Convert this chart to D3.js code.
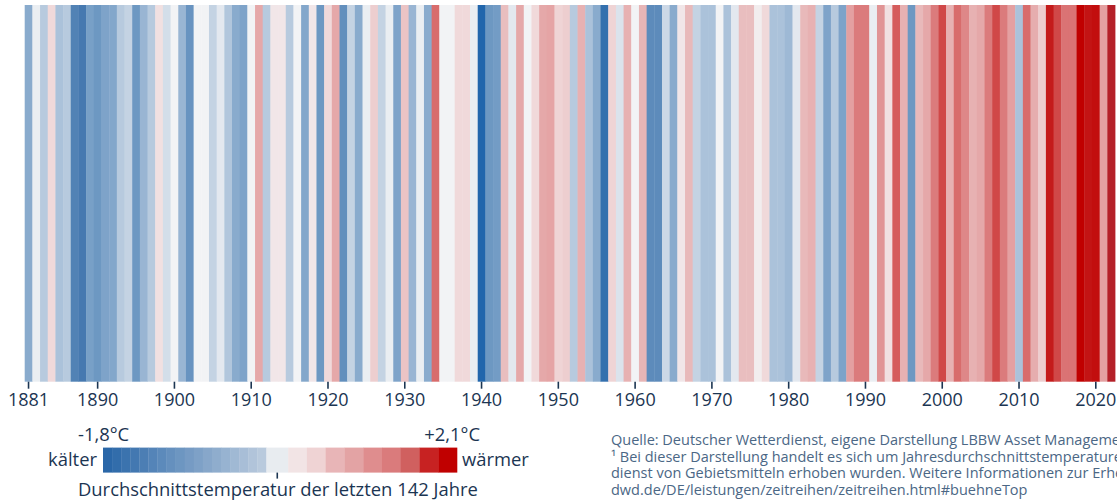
<!DOCTYPE html>
<html lang="de">
<head>
<meta charset="utf-8">
<script src="https://cdn.jsdelivr.net/npm/d3@7"></script>
<style>
  body { margin: 0; background: #fff; }
  svg { display: block; font-family: "Open Sans", "Noto Sans", sans-serif; }
</style>
</head>
<body>
<div id="chart"></div>
<script>
// Years shown (1881 - 2022, 142 stripes)
const years = d3.range(1881, 2023);

// Deviation of the annual mean temperature from the 142-year average, in °C
const anomalies = [
  // 1881-1890
  -0.8, -0.05, -0.4, 0.2, -0.5, -0.4, -1.3, -1.4, -0.95, -1.05,
  // 1891-1900
  -0.9, -0.85, -0.4, -0.3, -1.05, -0.65, -0.4, 0.15, -0.2, 0.0,
  // 1901-1910
  -0.65, -1.1, 0.0, 0.0, -0.3, -0.1, -0.45, -0.8, -0.9, 0.0,
  // 1911-1920
  0.7, -0.4, 0.1, 0.1, -0.4, 0.0, -0.85, 0.1, -1.05, 0.2,
  // 1921-1930
  0.7, -1.15, -0.3, -0.8, -0.05, 0.3, -0.3, -0.05, -0.9, 0.4,
  // 1931-1940
  -0.65, -0.05, -0.8, 1.2, 0.0, 0.0, 0.2, 0.2, -0.05, -1.8,
  // 1941-1950
  -1.05, -1.0, 0.45, -0.1, 0.7, 0.0, 0.2, 0.7, 0.75, 0.25,
  // 1951-1960
  0.3, -0.4, 0.6, -0.5, -0.8, -1.6, 0.25, -0.15, 0.6, 0.0,
  // 1961-1970
  0.55, -1.2, -1.2, -0.25, -0.8, 0.1, 0.5, -0.3, -0.5, -0.5,
  // 1971-1980
  0.0, -0.5, -0.1, 0.45, 0.45, 0.05, 0.2, -0.5, -0.5, -0.6,
  // 1981-1990
  -0.1, 0.5, 0.6, -0.3, -0.9, -0.4, -0.9, 0.8, 1.1, 1.1,
  // 1991-2000
  -0.05, 0.9, 0.15, 1.3, 0.6, -1.05, 0.5, 0.7, 1.1, 1.5,
  // 2001-2010
  0.6, 1.2, 1.0, 0.6, 0.7, 1.1, 1.5, 1.1, 0.8, -0.5,
  // 2011-2020
  1.2, 0.65, 0.3, 1.9, 1.5, 1.15, 1.15, 2.1, 1.95, 2.0,
  // 2021-2022
  0.8, 2.15
];

const tickYears = [1881, 1890, 1900, 1910, 1920, 1930, 1940, 1950, 1960, 1970,
                   1980, 1990, 2000, 2010, 2020];

// legend
const legendMin = -1.8, legendMax = 2.1;
const legendNeutral = [0, 0.24];   // light band around the long-term mean
const legendMeanTick = 0.12;
const blueSteps = 18, redSteps = 9;

const sourceLines = [
  "Quelle: Deutscher Wetterdienst, eigene Darstellung LBBW Asset Management",
  "\u00b9 Bei dieser Darstellung handelt es sich um Jahresdurchschnittstemperaturen, die vom Deutschen Wetter-",
  "dienst von Gebietsmitteln erhoben wurden. Weitere Informationen zur Erhebung unter:",
  "dwd.de/DE/leistungen/zeitreihen/zeitreihen.html#buehneTop"
];

const width = 1117, height = 501;
const textColor = '#1b3552';

const svg = d3.select('#chart').append('svg')
    .attr('width', width)
    .attr('height', height)
    .attr('viewBox', `0 0 ${width} ${height}`);

// stripe colours (blue = colder, red = warmer)
const color = d3.scaleLinear()
    .domain([-1.8, -1.4, -1.0, -0.6, -0.3, 0.0, 0.2, 0.5, 0.8, 1.1, 1.3, 1.5, 1.9, 2.1, 2.15])
    .range(['#2166ac', '#4679b0', '#739cc5', '#9eb9d5', '#c4d3e3', '#f2f3f5', '#f0d9da',
            '#e8b9ba', '#e4a0a1', '#db7b7c', '#d55c5c', '#d04848', '#c41b1b', '#c00000', '#b42028'])
    .clamp(true);

const x = d3.scaleBand()
    .domain(years)
    .range([24.7, 1115])
    .paddingInner(0);

const stripeTop = 5, stripeBottom = 381.7;

svg.append('g')
    .selectAll('rect')
    .data(years)
    .enter().append('rect')
    .attr('x', d => x(d))
    .attr('y', stripeTop)
    .attr('width', x.bandwidth() + 0.4)
    .attr('height', stripeBottom - stripeTop)
    .attr('fill', (d, i) => color(anomalies[i]));

// x axis
const axis = svg.append('g')
    .attr('transform', `translate(0,${stripeBottom})`)
    .call(d3.axisBottom(x).tickValues(tickYears).tickSize(7).tickPadding(5).tickSizeOuter(0));
axis.select('.domain').remove();
axis.selectAll('.tick line').attr('stroke', textColor).attr('stroke-width', 1.6);
axis.selectAll('.tick text')
    .attr('fill', textColor)
    .style('font-size', '18px')
    .style('font-family', '"Open Sans", sans-serif');

// legend colour bar
const lx = d3.scaleLinear().domain([legendMin, legendMax]).range([103, 457]);
const blueBreaks = d3.range(blueSteps + 1).map(i => legendMin + (legendNeutral[0] - legendMin) * i / blueSteps);
const redBreaks = d3.range(redSteps + 1).map(i => legendNeutral[1] + (legendMax - legendNeutral[1]) * i / redSteps);
const blueColor = d3.interpolateRgb('#2a67a8', '#b9cadd');
const redColors = ['#f2e4e5', '#efd3d4', '#e8b5b7', '#e3a3a4', '#df8d8e', '#da7b7c', '#d0605f', '#c72222', '#c00000'];

const segments = [];
for (let i = 0; i < blueSteps; i++) {
  segments.push({ a: blueBreaks[i], b: blueBreaks[i + 1], c: blueColor(i / (blueSteps - 1)) });
}
segments.push({ a: legendNeutral[0], b: legendNeutral[1], c: '#e8ecf0' });
for (let i = 0; i < redSteps; i++) {
  segments.push({ a: redBreaks[i], b: redBreaks[i + 1], c: redColors[i] });
}

const barTop = 447.6, barH = 25;
const legend = svg.append('g');
legend.selectAll('rect')
    .data(segments)
    .enter().append('rect')
    .attr('x', d => lx(d.a))
    .attr('y', barTop)
    .attr('width', d => lx(d.b) - lx(d.a) + 0.3)
    .attr('height', barH)
    .attr('fill', d => d.c);

legend.append('line')
    .attr('x1', lx(legendMeanTick)).attr('x2', lx(legendMeanTick))
    .attr('y1', barTop + barH).attr('y2', barTop + barH + 6)
    .attr('stroke', textColor).attr('stroke-width', 1.6);

const legendText = (txt, xPos, yPos, anchor) => legend.append('text')
    .attr('x', xPos).attr('y', yPos)
    .attr('text-anchor', anchor)
    .attr('fill', textColor)
    .style('font-size', '18.4px')
    .text(txt);

legendText('-1,8\u00b0C', 78, 441, 'start');
legendText('+2,1\u00b0C', 480, 441, 'end');
legendText('k\u00e4lter', 97, 466, 'end');
legendText('w\u00e4rmer', 462, 466, 'start');
legendText('Durchschnittstemperatur der letzten 142 Jahre', 78, 496, 'start');

// source note (runs off the right edge as in the original)
svg.append('g')
    .selectAll('text')
    .data(sourceLines)
    .enter().append('text')
    .attr('x', 611)
    .attr('y', (d, i) => 445 + i * 16.6)
    .attr('fill', '#4b6785')
    .style('font-size', '14.5px')
    .text(d => d);
</script>
</body>
</html>
